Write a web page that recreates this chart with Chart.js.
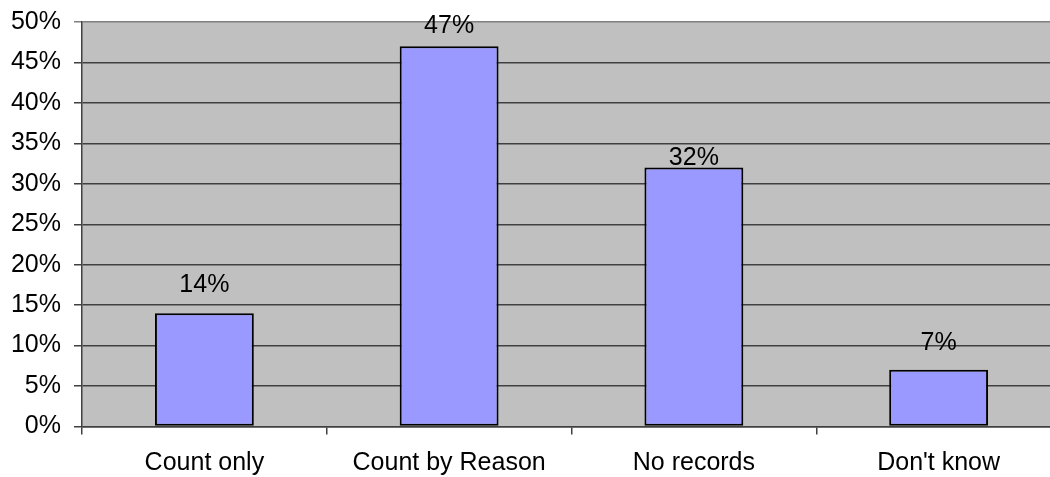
<!DOCTYPE html>
<html>
<head>
<meta charset="utf-8">
<script src="https://cdn.jsdelivr.net/npm/chart.js@4.4.1/dist/chart.umd.min.js"></script>
<style>
  html, body { margin: 0; padding: 0; background: #fff; overflow: hidden; }
  #wrap { width: 1050px; height: 477px; overflow: hidden; }
  canvas { display: block; }
</style>
</head>
<body>
<div id="wrap"><canvas id="chart" width="1062" height="477"></canvas></div>
<script>
// Share of responses per record-keeping practice
const categories = ['Count only', 'Count by Reason', 'No records', "Don't know"];
const shares = [14, 47, 32, 7];            // percent
const valueLabels = ['14%', '47%', '32%', '7%'];
const yTicks = [0, 5, 10, 15, 20, 25, 30, 35, 40, 45, 50];

// space between bar top and the baseline of its value label, per bar
const labelGap = [21, 13, 3, 20];

const FONT = "'Liberation Sans', Arial, sans-serif";

const valueLabelPlugin = {
  id: 'valueLabels',
  afterDatasetsDraw(chart) {
    const ctx = chart.ctx;
    const meta = chart.getDatasetMeta(0);
    ctx.save();
    ctx.font = '25px ' + FONT;
    ctx.fillStyle = '#000';
    ctx.textAlign = 'center';
    ctx.textBaseline = 'alphabetic';
    meta.data.forEach((bar, i) => {
      ctx.fillText(valueLabels[i], bar.x, bar.y - labelGap[i]);
    });
    ctx.restore();
  }
};

const plotBackground = {
  id: 'plotBackground',
  beforeDraw(chart) {
    const { ctx, chartArea: a } = chart;
    ctx.save();
    ctx.fillStyle = '#C0C0C0';
    ctx.fillRect(a.left, a.top, a.right - a.left, a.bottom - a.top);
    ctx.restore();
  }
};

new Chart(document.getElementById('chart'), {
  type: 'bar',
  data: {
    labels: categories,
    datasets: [{
      data: shares,
      backgroundColor: '#9999FF',
      borderColor: '#000000',
      borderWidth: 2,
      borderSkipped: false,
      barPercentage: 0.404,
      categoryPercentage: 1.0
    }]
  },
  options: {
    responsive: false,
    animation: false,
    devicePixelRatio: 1,
    layout: { padding: { top: 22, right: 1, left: 0, bottom: 0 } },
    plugins: {
      legend: { display: false },
      tooltip: { enabled: false }
    },
    scales: {
      x: {
        type: 'category',
        offset: true,
        grid: {
          offset: true,
          drawOnChartArea: false,
          drawTicks: true,
          tickLength: 8,
          color: '#404040',
          lineWidth: 1.5
        },
        border: { display: true, color: '#404040', width: 1.5 },
        ticks: {
          color: '#000',
          font: { family: FONT, size: 25 },
          padding: 14,
          maxRotation: 0,
          autoSkip: false
        },
        afterFit(scale) {
          scale.height = 50.5;
          scale.paddingLeft = 0;
          scale.paddingRight = 0;
        }
      },
      y: {
        min: 0,
        max: 50,
        afterBuildTicks(scale) { scale.ticks = yTicks.map(v => ({ value: v })); },
        grid: {
          drawTicks: true,
          tickLength: 8,
          color: ctx => (ctx.tick && ctx.tick.value === 50 ? '#808080' : '#404040'),
          lineWidth: 1.5
        },
        border: { display: true, color: '#404040', width: 1.5 },
        ticks: {
          color: '#000',
          font: { family: FONT, size: 25 },
          padding: 13,
          callback: v => v + '%'
        },
        afterFit(scale) {
          scale.width = 82;
          scale.paddingTop = 0;
          scale.paddingBottom = 0;
        }
      }
    }
  },
  plugins: [plotBackground, valueLabelPlugin]
});
</script>
</body>
</html>
